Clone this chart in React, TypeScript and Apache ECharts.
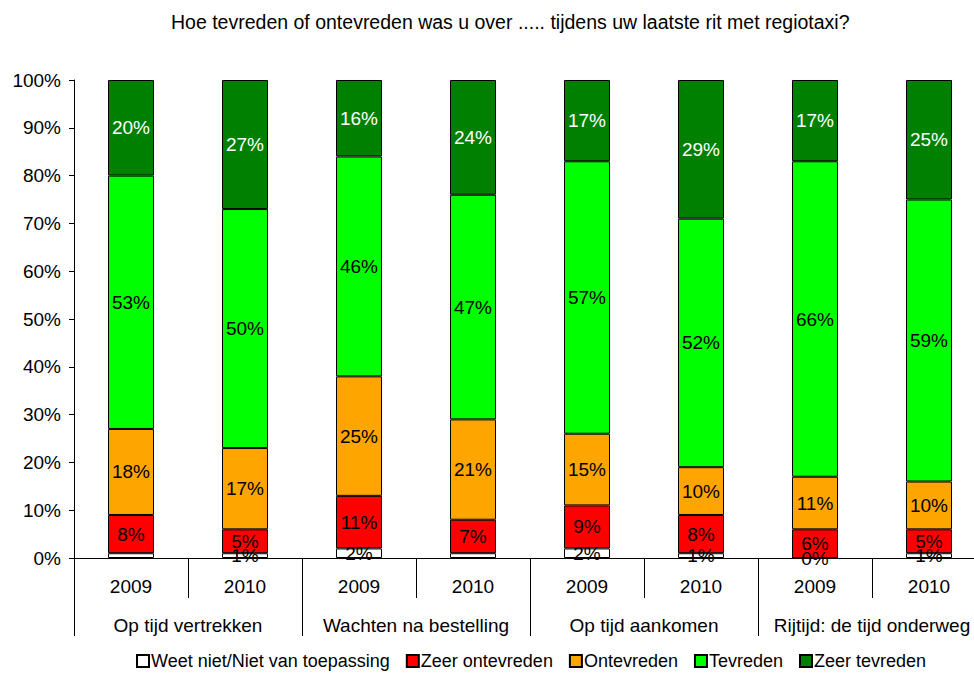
import React, { useEffect, useRef } from "react";
import * as echarts from "echarts";

const years = ["2009", "2010", "2009", "2010", "2009", "2010", "2009", "2010"];
const groups = ["Op tijd vertrekken", "Wachten na bestelling", "Op tijd aankomen", "Rijtijd: de tijd onderweg"];
const weetNiet = [1, 1, 2, 1, 2, 1, 0, 1];
const weetNietHiddenLabel = [0, 3];
const zeerOntevreden = [8, 5, 11, 7, 9, 8, 6, 5];
const ontevreden = [18, 17, 25, 21, 15, 10, 11, 10];
const tevreden = [53, 50, 46, 47, 57, 52, 66, 59];
const zeerTevreden = [20, 27, 16, 24, 17, 29, 17, 25];
const yTicks = [0, 10, 20, 30, 40, 50, 60, 70, 80, 90, 100];

const FONT = "Liberation Sans, Arial, sans-serif";
const FS = 19;

export default function App() {
  const ref = useRef<HTMLDivElement>(null);
  useEffect(() => {
    if (!ref.current) return;
    const chart = echarts.init(ref.current, undefined, { renderer: "svg" });
    const mkSeries = (name: string, data: any[], color: string, labelColor: string) => ({
      name,
      type: "bar",
      stack: "total",
      xAxisIndex: 0,
      barWidth: 46,
      data,
      itemStyle: { color, borderColor: "#000", borderWidth: 1 },
      label: {
        show: true,
        position: "inside",
        formatter: "{c}%",
        color: labelColor,
        fontSize: FS,
        fontFamily: FONT,
      },
      emphasis: { disabled: true },
    });
    const weetData = weetNiet.map((v, i) =>
      weetNietHiddenLabel.includes(i) ? { value: v, label: { show: false } } : v
    );
    chart.setOption({
      animation: false,
      textStyle: { fontFamily: FONT },
      title: {
        text: "Hoe tevreden of ontevreden was u over ..... tijdens uw laatste rit met regiotaxi?",
        left: 166,
        top: 7,
        textStyle: { fontSize: 19.5, fontWeight: "normal", color: "#000", fontFamily: FONT },
      },
      legend: {
        left: 131,
        bottom: 2,
        icon: "rect",
        itemWidth: 12,
        itemHeight: 12,
        itemGap: 16,
        textStyle: { fontSize: 18, color: "#000", fontFamily: FONT, padding: [0, 0, 0, -3] },
      },
      grid: { left: 74, right: 14, top: 80, bottom: 119, containLabel: false },
      xAxis: [
        {
          type: "category",
          data: years,
          position: "bottom",
          axisLine: { show: true, lineStyle: { color: "#000" } },
          axisTick: { show: true, interval: 0, length: 40, lineStyle: { color: "#000" } },
          axisLabel: { interval: 0, fontSize: FS, color: "#000", margin: 19, fontFamily: FONT },
        },
        {
          type: "category",
          data: groups,
          position: "bottom",
          offset: 40,
          axisLine: { show: false },
          axisTick: { show: true, interval: 0, length: 38, lineStyle: { color: "#000" } },
          axisLabel: { interval: 0, fontSize: FS, color: "#000", margin: 18, fontFamily: FONT },
        },
      ],
      yAxis: {
        type: "value",
        min: 0,
        max: yTicks[yTicks.length - 1],
        interval: yTicks[1] - yTicks[0],
        axisLine: { show: true, lineStyle: { color: "#000" } },
        axisTick: { show: true, length: 5, lineStyle: { color: "#000" } },
        splitLine: { show: false },
        axisLabel: { formatter: "{value}%", fontSize: FS, color: "#000", margin: 13, fontFamily: FONT },
      },
      series: [
        mkSeries("Weet niet/Niet van toepassing", weetData, "#FFFFFF", "#000"),
        mkSeries("Zeer ontevreden", zeerOntevreden, "#FF0000", "#000"),
        mkSeries("Ontevreden", ontevreden, "#FFA500", "#000"),
        mkSeries("Tevreden", tevreden, "#00FF00", "#000"),
        mkSeries("Zeer tevreden", zeerTevreden, "#008000", "#FFF"),
      ],
    });
    return () => chart.dispose();
  }, []);
  return (
    <div style={{ position: "fixed", left: 0, top: 0, width: 974, height: 677, overflow: "hidden", background: "#fff" }}>
      <div ref={ref} style={{ width: 1000, height: 677 }} />
    </div>
  );
}
